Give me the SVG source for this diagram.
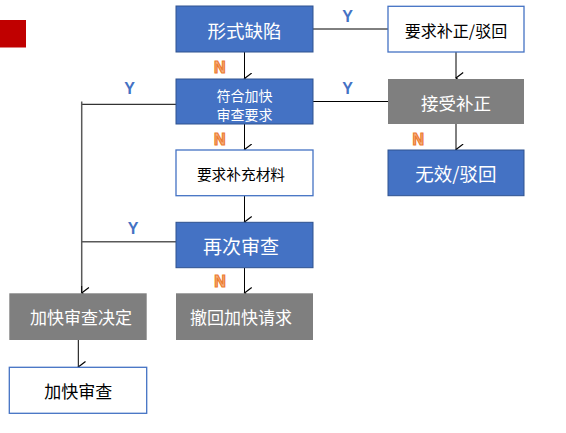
<svg xmlns="http://www.w3.org/2000/svg" width="566" height="433" viewBox="0 0 566 433">
<defs>
<marker id="arr" markerUnits="userSpaceOnUse" markerWidth="12" markerHeight="10" refX="5" refY="7" orient="auto-start-reverse" viewBox="0 0 10 8">
<path d="M0.5,1 L5,7 L9.5,1" fill="none" stroke="#000" stroke-width="1"/>
</marker>
<style>
.blue{fill:#4472C4;stroke:#2F528F;stroke-width:1}
.white{fill:#fff;stroke:#4472C4;stroke-width:1.3}
.gray{fill:#7F7F7F;stroke:none}
.t{font-family:"Noto Sans CJK SC","Microsoft YaHei",sans-serif;text-anchor:middle;dominant-baseline:central}
.tw{fill:#fff}
.tb{fill:#000}
.y{font-family:"Liberation Sans",Arial,sans-serif;font-weight:bold;font-size:16px;fill:#4472C4;text-anchor:middle}
.n{font-family:"Liberation Sans",Arial,sans-serif;font-weight:bold;font-size:16px;fill:#F4B183;stroke:#ED7D31;stroke-width:1.2;text-anchor:middle}
.c{fill:none;stroke:#000;stroke-width:1}
.g{fill:none;stroke:#595959;stroke-width:1.5}
</style>
</defs>
<rect x="0" y="20" width="26" height="27.5" fill="#C00000"/>
<g id="connectors">
<line class="c" x1="313" y1="29" x2="388" y2="29"/>
<line class="c" x1="456" y1="52" x2="456" y2="78" marker-end="url(#arr)"/>
<line class="c" x1="313" y1="101.5" x2="388" y2="101.5"/>
<line class="c" x1="456" y1="124" x2="456" y2="149.5" marker-end="url(#arr)"/>
<line class="c" x1="244.5" y1="52" x2="244.5" y2="78.5" marker-end="url(#arr)"/>
<line class="c" x1="244.5" y1="124" x2="244.5" y2="149.5" marker-end="url(#arr)"/>
<line class="c" x1="244.5" y1="196" x2="244.5" y2="222" marker-end="url(#arr)"/>
<line class="c" x1="244.5" y1="268" x2="244.5" y2="293" marker-end="url(#arr)"/>
<line class="c" x1="176" y1="104.3" x2="81.7" y2="104.3"/>
<line class="g" x1="176" y1="241.7" x2="81.7" y2="241.7"/>
<line class="g" x1="81.7" y1="101.5" x2="81.7" y2="292"/>
<line class="c" x1="81.7" y1="286" x2="81.7" y2="293" marker-end="url(#arr)"/>
<line class="c" x1="78.3" y1="340" x2="78.3" y2="367" marker-end="url(#arr)"/>
<text class="y" x="347.7" y="21.7">Y</text>
<text class="y" x="347.7" y="93.5">Y</text>
<text class="y" x="129.5" y="94">Y</text>
<text class="y" x="133" y="234">Y</text>
<text class="n" x="219.7" y="73.3">N</text>
<text class="n" x="219.7" y="145">N</text>
<text class="n" x="220" y="286.7">N</text>
<text class="n" x="418.3" y="145">N</text>
</g>
<g id="n1"><rect class="blue" x="176" y="6" width="137" height="46"/><text class="t tw" x="244.5" y="30" font-size="18.5">形式缺陷</text></g>
<g id="n2"><rect class="blue" x="176" y="79" width="137" height="45"/><text class="t tw" x="244.5" y="94.5" font-size="14">符合加快</text><text class="t tw" x="244.5" y="113.5" font-size="14">审查要求</text></g>
<g id="n3"><rect class="white" x="388" y="6.3" width="136" height="45.7"/><text class="t tb" x="456" y="30" font-size="16">要求补正/驳回</text></g>
<g id="n4"><rect class="gray" x="388" y="79" width="136" height="45"/><text class="t tw" x="456" y="102" font-size="17.5">接受补正</text></g>
<g id="n5"><rect class="blue" x="388" y="150" width="136" height="45.7"/><text class="t tw" x="456" y="173" font-size="18.5">无效/驳回</text></g>
<g id="n6"><rect class="white" x="176" y="150" width="137" height="45.7"/><text class="t tb" x="241" y="173" font-size="14.7">要求补充材料</text></g>
<g id="n7"><rect class="blue" x="176" y="222.3" width="137" height="45.4"/><text class="t tw" x="241" y="245.5" font-size="19">再次审查</text></g>
<g id="n8"><rect class="gray" x="176" y="293.3" width="137" height="46.7"/><text class="t tw" x="241" y="316.5" font-size="17">撤回加快请求</text></g>
<g id="n9"><rect class="gray" x="9.3" y="293.3" width="137.4" height="46.7"/><text class="t tw" x="81" y="316.5" font-size="17">加快审查决定</text></g>
<g id="n10"><rect class="white" x="9.3" y="367.3" width="137.4" height="46"/><text class="t tb" x="78.3" y="390.5" font-size="17">加快审查</text></g>
</svg>
